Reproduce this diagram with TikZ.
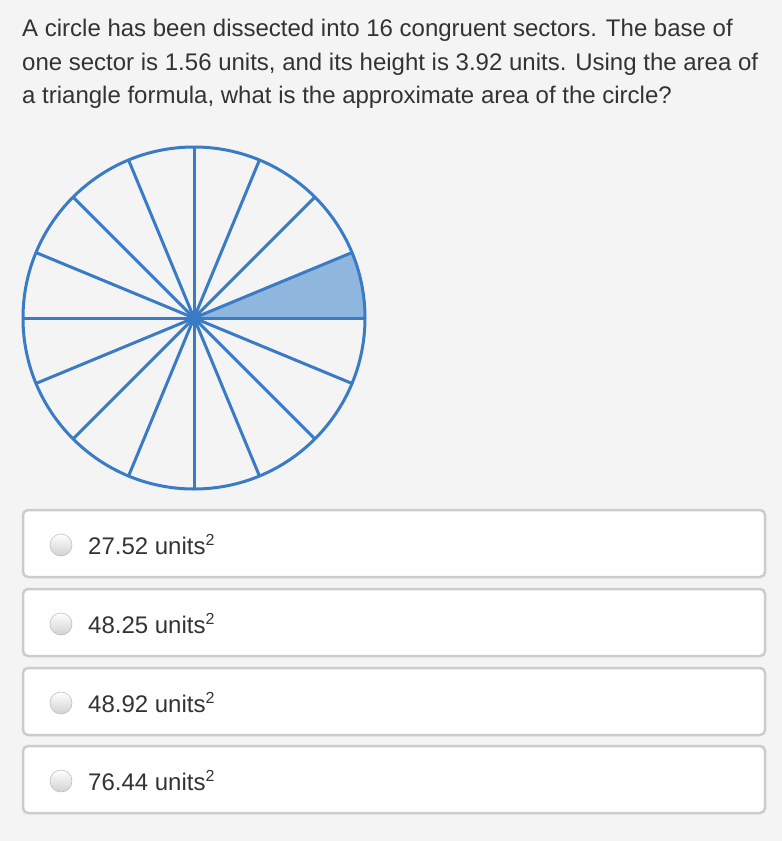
\documentclass[tikz,border=0pt]{standalone}
\usepackage{fontspec}
\setmainfont{Liberation Sans}
\definecolor{bg}{HTML}{F4F4F4}
\definecolor{cblue}{HTML}{3A7BC6}
\definecolor{sfill}{HTML}{8FB6DC}
\definecolor{boxline}{HTML}{CCCCCC}
\definecolor{txt}{HTML}{333333}
\begin{document}
\begin{tikzpicture}[x=1pt,y=-1pt,
  qtext/.style={anchor=base west,inner sep=0pt,font=\fontsize{24}{28}\selectfont,text=txt},
  ansbox/.style={draw=boxline,line width=2.5pt,fill=white,rounded corners=5pt},
  radio/.style={circle,minimum size=22pt,inner sep=0pt,draw=black!25,line width=0.6pt,top color=white,bottom color=black!18},
  spoke/.style={draw=cblue,line width=3pt}]
\fill[bg] (0,0) rectangle (782,841);
\useasboundingbox (0,0) rectangle (782,841);
\node[qtext] (l1) at (22,36) {A circle has been dissected into 16 congruent sectors. The base of};
\node[qtext] (l2) at (22,70) {one sector is 1.56 units, and its height is 3.92 units. Using the area of};
\node[qtext] (l3) at (22,103) {a triangle formula, what is the approximate area of the circle?};
% circle
\coordinate (c) at (194,318);
\fill[sfill] (c) -- ++(171,0) arc[start angle=0,end angle=-22.5,radius=171] -- cycle;
\foreach \a in {0,22.5,...,337.5} {
  \draw[spoke] (c) -- ++(\a:171);
}
\draw[spoke] (c) circle[radius=171];
\fill[cblue] (c) circle[radius=6];
% answers
\foreach \i/\y/\t in {1/510/27.52,2/589/48.25,3/668/48.92,4/746/76.44} {
  \draw[ansbox] (23,\y) rectangle (765,\y+67);
  \node[radio] (r\i) at (61,\y+35) {};
  \node[qtext] (a\i) at (88,\y+44) {\t\ units\raisebox{9pt}{\fontsize{16}{18}\selectfont 2}};
}
\end{tikzpicture}
\end{document}
